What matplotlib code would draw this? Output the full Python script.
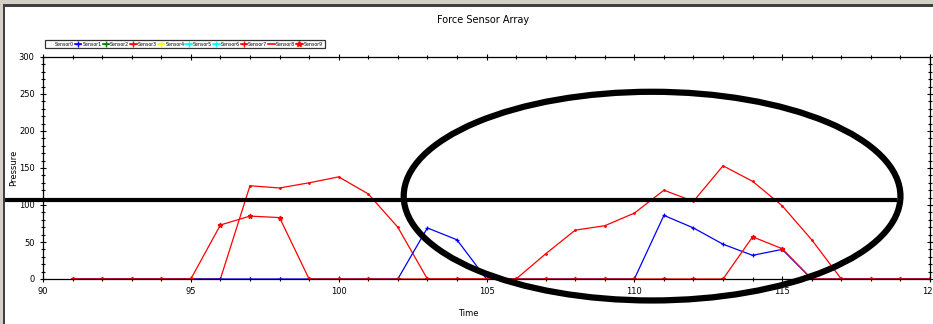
import matplotlib
matplotlib.use("Agg")
import matplotlib.pyplot as plt
from matplotlib.patches import Ellipse, Rectangle
from matplotlib.lines import Line2D
from matplotlib.ticker import MultipleLocator

# sample times
time = list(range(91, 121))

# Sensor1 (blue, + markers)
sensor1 = [0, 0, 0, 0, 0, 0, 0, 0, 0, 0, 0, 0, 69, 53, 0,
           0, 0, 0, 0, 0, 86, 69, 47, 32, 40, 0, 0, 0, 0, 0]
# Sensor8 (red line)
sensor8 = [0, 0, 0, 0, 0, 0, 126, 123, 130, 138, 115, 70, 0, 0, 0,
           0, 34, 66, 72, 89, 120, 105, 153, 132, 99, 53, 0, 0, 0, 0]
# Sensor9 (red, star markers)
sensor9 = [0, 0, 0, 0, 0, 73, 85, 83, 0, 0, 0, 0, 0, 0, 0,
           0, 0, 0, 0, 0, 0, 0, 0, 57, 41, 0, 0, 0, 0, 0]

legend_labels = ["Sensor0", "Sensor1", "Sensor2", "Sensor3", "Sensor4",
                 "Sensor5", "Sensor6", "Sensor7", "Sensor8", "Sensor9"]
legend_colors = ["none", "blue", "green", "red", "yellow",
                 "cyan", "cyan", "red", "red", "red"]
legend_markers = ["", "+", "+", "+", "+", "+", "+", "+", "", "*"]

# annotation drawn over the chart: threshold line and circled region
thresh = 107
line_x = (88.55, 118.9)
ell_center = (110.6, 112)
ell_w, ell_h = 16.8, 282

plt.rcParams["font.family"] = ["DejaVu Sans"]

fig = plt.figure(figsize=(9.33, 3.24), dpi=100)
ax = fig.add_axes([43 / 933, 45 / 324, 887 / 933, 222 / 324])

ax.plot(time, sensor8, color="red", lw=0.9, marker=".", ms=2)
ax.plot(time, sensor1, color="blue", lw=0.9, marker="+", ms=3, mew=0.9)
ax.plot(time, sensor9, color="red", lw=0.9, marker="*", ms=3.5)

ax.set_xlim(90, 120)
ax.set_ylim(0, 300)
ax.xaxis.set_major_locator(MultipleLocator(5))
ax.xaxis.set_minor_locator(MultipleLocator(1))
ax.yaxis.set_major_locator(MultipleLocator(50))
ax.yaxis.set_minor_locator(MultipleLocator(10))
ax.tick_params(which="both", direction="inout", top=True, right=True,
               labelsize=6, width=0.8)
ax.tick_params(which="major", length=5)
ax.tick_params(which="minor", length=3)
for s in ax.spines.values():
    s.set_linewidth(0.9)

ax.set_xlabel("Time", fontsize=6)
ax.xaxis.set_label_coords(425 / 887, -30 / 222)
ax.set_ylabel("Pressure", fontsize=6)
ax.yaxis.set_label_coords(-25 / 887, 0.5)
fig.text(483 / 933, 1 - 20 / 324, "Force Sensor Array", ha="center",
         va="center", fontsize=7)

handles = [Line2D([], [], color=c, marker=m, lw=1.2, ms=4)
           for c, m in zip(legend_colors, legend_markers)]
leg = fig.legend(handles, legend_labels, ncol=10, loc="center left",
                 bbox_to_anchor=(43 / 933, 1 - 44 / 324), fontsize=3.4,
                 frameon=True, fancybox=False, handlelength=1.4,
                 handletextpad=0.2, columnspacing=0.2, borderpad=0.4,
                 markerfirst=True)
leg.get_frame().set_edgecolor("black")
leg.get_frame().set_linewidth(0.9)

# hand-drawn annotations
ax.plot(line_x, (thresh, thresh), color="black", lw=3, clip_on=False,
        solid_capstyle="butt", zorder=5)
ax.add_patch(Ellipse(ell_center, ell_w, ell_h, fill=False, ec="black",
                     lw=4.5, clip_on=False, zorder=5))

# window border
fig.patches.append(Rectangle((0, 320), 933, 4, transform=None,
                             fc="#d4d0c8", ec="none"))
fig.patches.append(Rectangle((0, 317), 933, 3, transform=None,
                             fc="#404040", ec="none"))
fig.patches.append(Rectangle((0, 0), 3, 324, transform=None,
                             fc="#d4d0c8", ec="none"))
fig.patches.append(Rectangle((3, 0), 2, 320, transform=None,
                             fc="#404040", ec="none"))

fig.savefig("out.png", dpi=100)
